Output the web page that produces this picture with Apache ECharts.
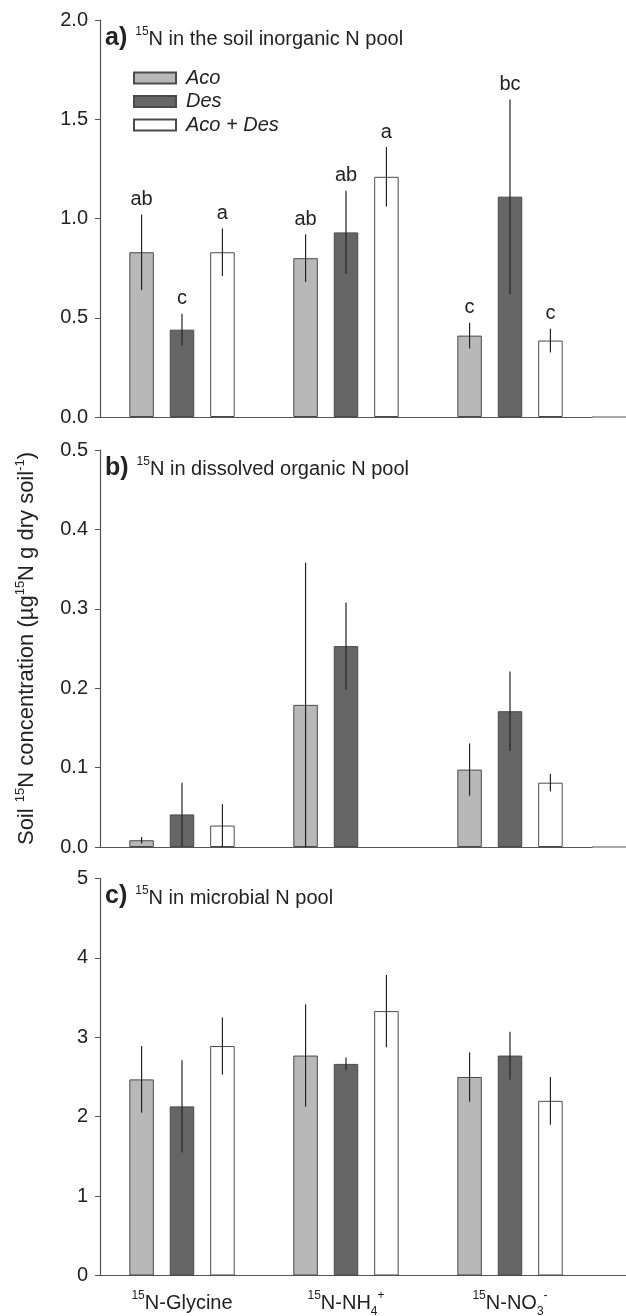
<!DOCTYPE html>
<html>
<head>
<meta charset="utf-8">
<script src="https://cdn.jsdelivr.net/npm/echarts@6/dist/echarts.min.js"></script>
<style>
html,body{margin:0;padding:0;background:#fff;}
#chart{width:626px;height:1316px;}
</style>
</head>
<body>
<div id="chart"></div>
<script>
// ---- data ----
const categories = ['15N-Glycine', '15N-NH4+', '15N-NO3-'];
const categoryLabels = ['{s|15}N-Glycine', '{s|15}N-NH{b|4}{s|+}', '{s|15}N-NO{b|3}{s|-}'];
const treatments = ['Aco', 'Des', 'Aco + Des'];

// a) inorganic N pool
const inorgAco = [0.83, 0.80, 0.41];
const inorgDes = [0.44, 0.93, 1.11];
const inorgMix = [0.83, 1.21, 0.385];
const inorgAcoErr = [0.19, 0.12, 0.065];
const inorgDesErr = [0.08, 0.21, 0.49];
const inorgMixErr = [0.12, 0.15, 0.06];
const inorgAcoLetters = ['ab', 'ab', 'c'];
const inorgDesLetters = ['c', 'ab', 'bc'];
const inorgMixLetters = ['a', 'a', 'c'];

// b) dissolved organic N pool
const donAco = [0.0085, 0.179, 0.0975];
const donDes = [0.041, 0.253, 0.171];
const donMix = [0.027, null, 0.081];
const donAcoErr = [0.004, 0.179, 0.033];
const donDesErr = [0.04, 0.055, 0.05];
const donMixErr = [0.027, null, 0.011];

// c) microbial N pool
const micAco = [2.47, 2.77, 2.50];
const micDes = [2.13, 2.665, 2.77];
const micMix = [2.89, 3.33, 2.20];
const micAcoErr = [0.42, 0.645, 0.31];
const micDesErr = [0.58, 0.08, 0.30];
const micMixErr = [0.36, 0.455, 0.30];

// axis ticks
const yMax = [2.0, 0.5, 5];
const yStep = [0.5, 0.1, 1];
const yDecimals = [1, 1, 0];

const panelTitles = [
  '{b|a)} {s|15}{t|N in the soil inorganic N pool}',
  '{b|b)} {s|15}{t|N in dissolved organic N pool}',
  '{b|c)} {s|15}{t|N in microbial N pool}'
];
const yTitle = '{t|Soil }{s|15}{t|N concentration (\u00b5g}{s|15}{t|N g dry soil}{s|-1}{t|)}';

// ---- layout / style ----
const FONT = "'Liberation Sans', Arial, sans-serif";
const GRID_LEFT = 100, GRID_W = 492, GRID_H = 397;
const GRID_TOPS = [20, 450, 878.5];
const BAR_W = 24.5, BAR_GAP = 0.65;
const STEP = BAR_W * (1 + BAR_GAP);
const COLORS = ['#b8b8b8', '#666666', '#ffffff'];
const AXIS_COLOR = '#555';

const panels = [
  { vals: [inorgAco, inorgDes, inorgMix], errs: [inorgAcoErr, inorgDesErr, inorgMixErr], letters: [inorgAcoLetters, inorgDesLetters, inorgMixLetters] },
  { vals: [donAco, donDes, donMix], errs: [donAcoErr, donDesErr, donMixErr], letters: null },
  { vals: [micAco, micDes, micMix], errs: [micAcoErr, micDesErr, micMixErr], letters: null }
];

const grids = [], xAxes = [], yAxes = [], series = [], titles = [], graphics = [];

panels.forEach((p, pi) => {
  grids.push({ left: GRID_LEFT, top: GRID_TOPS[pi], width: GRID_W, height: GRID_H,
               containLabel: false, outerBoundsMode: 'none' });
  xAxes.push({
    type: 'category', gridIndex: pi, data: categories,
    axisLine: { lineStyle: { color: AXIS_COLOR, width: 1.2 } },
    axisTick: { show: false },
    axisLabel: {
      show: pi === 2, interval: 0, margin: 14, color: '#222',
      formatter: (v, i) => categoryLabels[i],
      rich: {
        s: { fontSize: 12, fontFamily: FONT, color: '#222', verticalAlign: 'top', lineHeight: 12 },
        b: { fontSize: 12, fontFamily: FONT, color: '#222', verticalAlign: 'bottom', lineHeight: 12 }
      },
      fontSize: 20, fontFamily: FONT, lineHeight: 28
    }
  });
  yAxes.push({
    type: 'value', gridIndex: pi, min: 0, max: yMax[pi], interval: yStep[pi],
    splitLine: { show: false },
    axisLine: { show: true, lineStyle: { color: AXIS_COLOR, width: 1.2 } },
    axisTick: { show: true, inside: false, length: 5, lineStyle: { color: AXIS_COLOR } },
    axisLabel: {
      margin: 12, color: '#222', fontSize: 20, fontFamily: FONT,
      formatter: v => v.toFixed(yDecimals[pi])
    },
    name: pi === 1 ? yTitle : '',
    nameLocation: 'middle', nameRotate: 90, nameGap: 61,
    nameTextStyle: {
      rich: {
        t: { fontSize: 22, fontFamily: FONT, color: '#222', lineHeight: 25, verticalAlign: 'middle' },
        s: { fontSize: 13, fontFamily: FONT, color: '#222', lineHeight: 25, verticalAlign: 'top' }
      }
    }
  });
  p.vals.forEach((vals, ti) => {
    series.push({
      type: 'bar', name: treatments[ti], xAxisIndex: pi, yAxisIndex: pi,
      data: vals, barWidth: BAR_W, barGap: (BAR_GAP * 100) + '%',
      itemStyle: { color: COLORS[ti], borderColor: '#4a4a4a', borderWidth: 1 },
      emphasis: { disabled: true }, animation: false
    });
  });
  // error bars + letters
  const errData = [], errLetters = [];
  p.vals.forEach((vals, ti) => {
    vals.forEach((v, ci) => {
      if (v == null) return;
      errData.push([ci, ti, v, p.errs[ti][ci]]);
      errLetters.push(p.letters ? p.letters[ti][ci] : '');
    });
  });
  series.push({
    type: 'custom', xAxisIndex: pi, yAxisIndex: pi, z: 10, animation: false,
    encode: { x: 0, y: 2 },
    data: errData,
    renderItem: (params, api) => {
      const c = api.value(0), t = api.value(1), v = api.value(2), e = api.value(3);
      const cx = api.coord([c, v])[0] + (t - 1) * STEP;
      const yTop = api.coord([c, v + e])[1];
      const yBot = api.coord([c, Math.max(0, v - e)])[1];
      const children = [{
        type: 'line',
        shape: { x1: cx, y1: yTop, x2: cx, y2: yBot },
        style: { stroke: '#222', lineWidth: 1.2 }
      }];
      const letter = errLetters[params.dataIndex];
      if (letter) {
        children.push({
          type: 'text',
          style: { text: letter, x: cx, y: yTop - 5, align: 'center', verticalAlign: 'bottom',
                   font: '20px ' + FONT, fill: '#222' }
        });
      }
      return { type: 'group', children: children };
    }
  });
  titles.push({
    text: panelTitles[pi], left: GRID_LEFT + 5, top: GRID_TOPS[pi] + 4, padding: 0,
    textStyle: {
      fontWeight: 'normal',
      rich: {
        b: { fontSize: 25, fontWeight: 'bold', fontFamily: FONT, color: '#222', lineHeight: 28, verticalAlign: 'middle' },
        s: { fontSize: 12, fontWeight: 'normal', fontFamily: FONT, color: '#222', lineHeight: 28, verticalAlign: 'top', padding: [2, 0, 0, 3] },
        t: { fontSize: 20, fontWeight: 'normal', fontFamily: FONT, color: '#222', lineHeight: 28, verticalAlign: 'middle', padding: [3, 0, 0, 0] }
      }
    }
  });
  // extension of the x axis line to the right edge
  graphics.push({
    type: 'line', silent: true,
    shape: { x1: GRID_LEFT + GRID_W, y1: GRID_TOPS[pi] + GRID_H, x2: 626, y2: GRID_TOPS[pi] + GRID_H },
    style: { stroke: AXIS_COLOR, lineWidth: 1.2 }
  });
});

const chart = echarts.init(document.getElementById('chart'), null, { renderer: 'canvas' });
chart.setOption({
  backgroundColor: '#fff',
  animation: false,
  title: titles,
  legend: {
    data: treatments, orient: 'vertical', left: 133, top: 68, padding: 0,
    itemWidth: 42, itemHeight: 11, itemGap: 3.5, icon: 'rect',
    selectedMode: false,
    textStyle: { fontSize: 20, lineHeight: 20, fontStyle: 'italic', fontFamily: FONT, color: '#222', padding: [0, 0, 0, 5] }
  },
  grid: grids, xAxis: xAxes, yAxis: yAxes, series: series,
  graphic: graphics
});
</script>
</body>
</html>
